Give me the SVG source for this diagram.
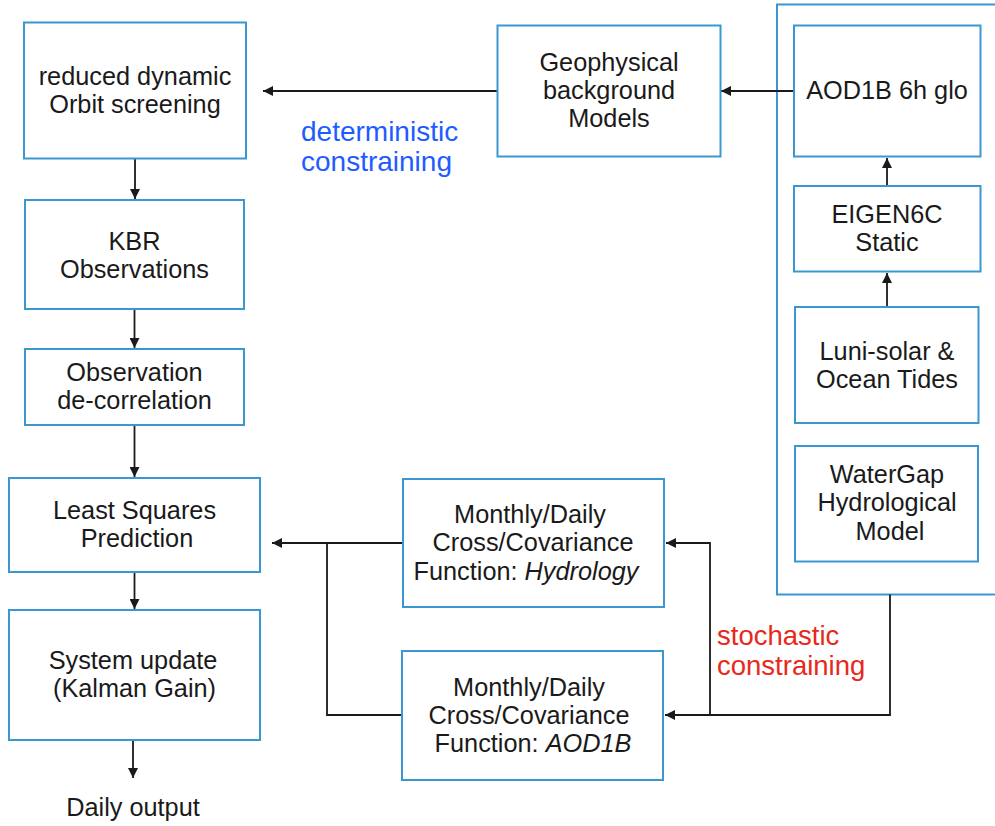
<svg xmlns="http://www.w3.org/2000/svg" width="995" height="826" viewBox="0 0 995 826">
<defs>
<style>
.box{fill:#fff;stroke:#3a97d2;stroke-width:2}
.t{font-family:"Liberation Sans",Arial,sans-serif;font-size:25.3px;fill:#1a1a1a;text-anchor:middle}
.c{fill:none;stroke:#1a1a1a;stroke-width:1.8}
.blue{font-family:"Liberation Sans",Arial,sans-serif;font-size:28px;fill:#1e5cff}
.red{font-family:"Liberation Sans",Arial,sans-serif;font-size:27.5px;fill:#e8281b}
</style>
<marker id="ah" viewBox="0 0 10 10" refX="10" refY="5" markerWidth="11" markerHeight="10" markerUnits="userSpaceOnUse" orient="auto">
<path d="M0,0 L10,5 L0,10 z" fill="#1a1a1a"/>
</marker>
</defs>
<rect width="995" height="826" fill="#fff"/>

<g id="container">
<rect class="box" x="777" y="4.5" width="240" height="590"/>
</g>

<g id="connectors">
<line class="c" x1="135" y1="159" x2="135" y2="199" marker-end="url(#ah)"/>
<line class="c" x1="134.5" y1="309" x2="134.5" y2="348" marker-end="url(#ah)"/>
<line class="c" x1="134.5" y1="425" x2="134.5" y2="477" marker-end="url(#ah)"/>
<line class="c" x1="134.5" y1="572" x2="134.5" y2="609" marker-end="url(#ah)"/>
<line class="c" x1="133" y1="740" x2="133" y2="778" marker-end="url(#ah)"/>
<line class="c" x1="497" y1="91" x2="263" y2="91" marker-end="url(#ah)"/>
<line class="c" x1="794" y1="91" x2="721" y2="91" marker-end="url(#ah)"/>
<line class="c" x1="887" y1="186" x2="887" y2="158" marker-end="url(#ah)"/>
<line class="c" x1="887" y1="307" x2="887" y2="273" marker-end="url(#ah)"/>
<polyline class="c" points="890,594.5 890,715 665,715" marker-end="url(#ah)"/>
<polyline class="c" points="710,715 710,543 666,543" marker-end="url(#ah)"/>
<line class="c" x1="403" y1="543" x2="272" y2="543" marker-end="url(#ah)"/>
<polyline class="c" points="402,715 327,715 327,543"/>
</g>

<g id="orbit">
<rect class="box" x="24" y="22.5" width="222" height="136"/>
<text class="t" x="135" y="85">reduced dynamic</text>
<text class="t" x="135" y="113">Orbit screening</text>
</g>
<g id="kbr">
<rect class="box" x="25" y="200" width="219" height="109"/>
<text class="t" x="134.5" y="250">KBR</text>
<text class="t" x="134.5" y="278">Observations</text>
</g>
<g id="decorrelation">
<rect class="box" x="25" y="349" width="219" height="76"/>
<text class="t" x="134.5" y="381">Observation</text>
<text class="t" x="134.5" y="409">de-correlation</text>
</g>
<g id="lsp">
<rect class="box" x="9" y="478" width="251" height="94"/>
<text class="t" x="134.5" y="519">Least Squares</text>
<text class="t" x="137" y="547">Prediction</text>
</g>
<g id="system">
<rect class="box" x="9" y="610" width="251" height="130"/>
<text class="t" x="133" y="669">System update</text>
<text class="t" x="134.5" y="697">(Kalman Gain)</text>
</g>
<g id="daily">
<text class="t" x="133" y="816">Daily output</text>
</g>
<g id="geophysical">
<rect class="box" x="497.5" y="25.5" width="223" height="131"/>
<text class="t" x="609" y="71">Geophysical</text>
<text class="t" x="609" y="99">background</text>
<text class="t" x="609" y="127">Models</text>
</g>
<g id="aod1b">
<rect class="box" x="794" y="25.5" width="186.5" height="131"/>
<text class="t" x="887" y="99">AOD1B 6h glo</text>
</g>
<g id="eigen">
<rect class="box" x="794" y="186" width="186.5" height="85.5"/>
<text class="t" x="887" y="223">EIGEN6C</text>
<text class="t" x="887" y="251">Static</text>
</g>
<g id="luni">
<rect class="box" x="795" y="307" width="183.5" height="116"/>
<text class="t" x="887" y="360">Luni-solar &amp;</text>
<text class="t" x="887" y="388">Ocean Tides</text>
</g>
<g id="watergap">
<rect class="box" x="795" y="446" width="183" height="115.5"/>
<text class="t" x="887" y="483">WaterGap</text>
<text class="t" x="887" y="511">Hydrological</text>
<text class="t" x="890" y="540">Model</text>
</g>
<g id="covHydrology">
<rect class="box" x="403" y="479" width="261" height="128"/>
<text class="t" x="530" y="523">Monthly/Daily</text>
<text class="t" x="533" y="551">Cross/Covariance</text>
<text class="t" x="526" y="580">Function: <tspan font-style="italic">Hydrology</tspan></text>
</g>
<g id="covAOD1B">
<rect class="box" x="402" y="651" width="261" height="129"/>
<text class="t" x="529" y="696">Monthly/Daily</text>
<text class="t" x="529" y="724">Cross/Covariance</text>
<text class="t" x="533" y="752">Function: <tspan font-style="italic">AOD1B</tspan></text>
</g>

<g id="labels">
<text class="blue" x="301" y="141">deterministic</text>
<text class="blue" x="301" y="171">constraining</text>
<text class="red" x="717" y="645">stochastic</text>
<text class="red" x="717" y="675">constraining</text>
</g>
</svg>
